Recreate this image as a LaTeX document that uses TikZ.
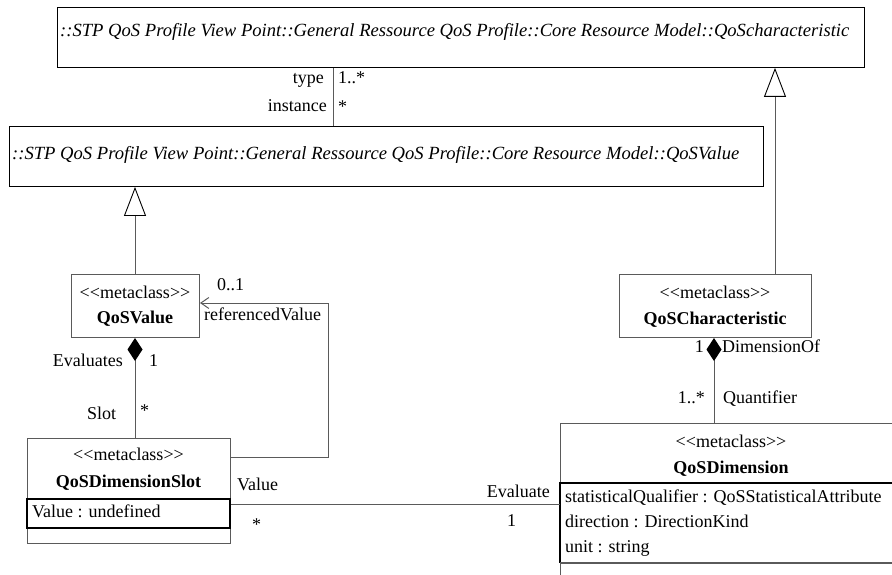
\documentclass[tikz,border=0pt]{standalone}
\usepackage{fontspec}
\setmainfont{Liberation Serif}
\usetikzlibrary{arrows.meta}
\definecolor{linegray}{HTML}{5A5A5A}
\newcommand{\stereomc}{<\kern0pt<metaclass>\kern0pt>}
\begin{document}
\begin{tikzpicture}[x=1pt,y=-1pt,
  font=\fontsize{18}{22}\selectfont,
  absbox/.style={draw=black, line width=0.9pt, rectangle, inner sep=0pt, anchor=north west},
  clsbox/.style={draw=linegray, line width=1pt, rectangle, inner sep=0pt, anchor=north west},
  lbl/.style={inner sep=0pt, anchor=base west},
  lblr/.style={inner sep=0pt, anchor=base east},
  ctr/.style={inner sep=0pt, anchor=base},
  itl/.style={inner sep=0pt, anchor=base west, font=\fontsize{18.6}{22}\selectfont\itshape},
  bld/.style={inner sep=0pt, anchor=base, font=\fontsize{18}{22}\selectfont\bfseries},
  conn/.style={draw=linegray, line width=1pt},
  gen/.style={conn, -{Triangle[open, length=29pt, width=22pt, line width=0.9pt, color=black, fill=white]}},
  comp/.style={conn, -{Diamond[length=23pt, width=15pt, color=black, fill=black]}},
  nav/.style={conn, -{Straight Barb[length=8pt, width=11pt, line width=1pt]}},
  compart/.style={draw=black, line width=1.4pt}
]
\path[use as bounding box] (0,0) rectangle (892,575);
\clip (0,0) rectangle (892,575);
\fill[white] (0,0) rectangle (892,575);

% abstract boxes
\node[absbox, minimum width=807pt, minimum height=60pt] (topabs) at (57,7) {};
\node[itl] (toptxt) at (60,37) {::STP QoS Profile View Point::General Ressource QoS Profile::Core Resource Model::QoScharacteristic};
\node[absbox, minimum width=754pt, minimum height=60pt] (valabs) at (9,126) {};
\node[itl] (valtxt) at (12,160) {::STP QoS Profile View Point::General Ressource QoS Profile::Core Resource Model::QoSValue};

% class boxes
\node[clsbox, minimum width=128pt, minimum height=63pt] (qv) at (71,274) {};
\node[ctr] (qvst) at (135,298) {\stereomc};
\node[bld] (qvnm) at (135,323) {QoSValue};

\node[clsbox, minimum width=192pt, minimum height=63pt] (qc) at (619,274) {};
\node[ctr] (qcst) at (715,298) {\stereomc};
\node[bld] (qcnm) at (715,324) {QoSCharacteristic};

\node[clsbox, minimum width=203pt, minimum height=105pt] (qds) at (27,438) {};
\node[ctr] (qdsst) at (128.5,460) {\stereomc};
\node[bld] (qdsnm) at (128.5,487) {QoSDimensionSlot};
\draw[compart] (27,499) rectangle (230,528);
\node[lbl] (qdsa1) at (32,517) {Value : undefined};

\node[clsbox, minimum width=342pt, minimum height=190pt] (qd) at (560,423) {};
\node[ctr] (qdst) at (731,447) {\stereomc};
\node[bld] (qdnm) at (731,473) {QoSDimension};
\draw[compart] (902,483) -- (560,483) -- (560,563);
\draw[draw=linegray, line width=1.4pt] (560,563) -- (902,563);
\node[lbl] (qda1) at (565,502) {statisticalQualifier : QoSStatisticalAttribute};
\node[lbl] (qda2) at (565,527) {direction : DirectionKind};
\node[lbl] (qda3) at (565,552) {unit : string};

% connector anchor points
\coordinate (ax) at (333,0);
\coordinate (gx) at (775,0);
\coordinate (cx) at (135,0);
\coordinate (dx) at (714,0);
\coordinate (rv) at (0,303);
\coordinate (rs) at (0,457);
\coordinate (ry) at (328,0);
\coordinate (ev) at (0,504);

% association type / instance
\draw[conn] (topabs.south -| ax) -- (valabs.north -| ax);
\node[lblr] (ltype) at (324,84) {type};
\node[lbl] (lm1) at (338,84) {1..*};
\node[lblr] (linst) at (327,112) {instance};
\node[lbl] (lm2) at (338,113) {*};

% generalizations
\draw[gen] (qv.north -| cx) -- (valabs.south -| cx);
\draw[gen] (qc.north -| gx) -- (topabs.south -| gx);

% compositions
\draw[comp] (qds.north -| cx) -- (qv.south -| cx);
\node[lblr] (levs) at (123,366) {Evaluates};
\node[lbl] (l1a) at (149,366) {1};
\node[lbl] (lslot) at (87,419) {Slot};
\node[lbl] (lst1) at (140,416) {*};

\draw[comp] (qd.north -| dx) -- (qc.south -| dx);
\node[lblr] (l1b) at (704,352) {1};
\node[lbl] (ldim) at (722,352) {DimensionOf};
\node[lblr] (l1s) at (705,403) {1..*};
\node[lbl] (lquant) at (723,403) {Quantifier};

% referencedValue
\draw[nav] (qds.east |- rs) -- (ry |- rs) -- (ry |- rv) -- (qv.east |- rv);
\node[lbl] (l01) at (217,290) {0..1};
\node[lbl] (lref) at (204,320) {referencedValue};

% Evaluate
\draw[conn] (qds.east |- ev) -- (qd.west |- ev);
\node[lbl] (lval) at (237,490) {Value};
\node[lbl] (lst2) at (252,530) {*};
\node[lblr] (leva) at (550,497) {Evaluate};
\node[lbl] (l1c) at (507,526) {1};
\end{tikzpicture}
\end{document}
